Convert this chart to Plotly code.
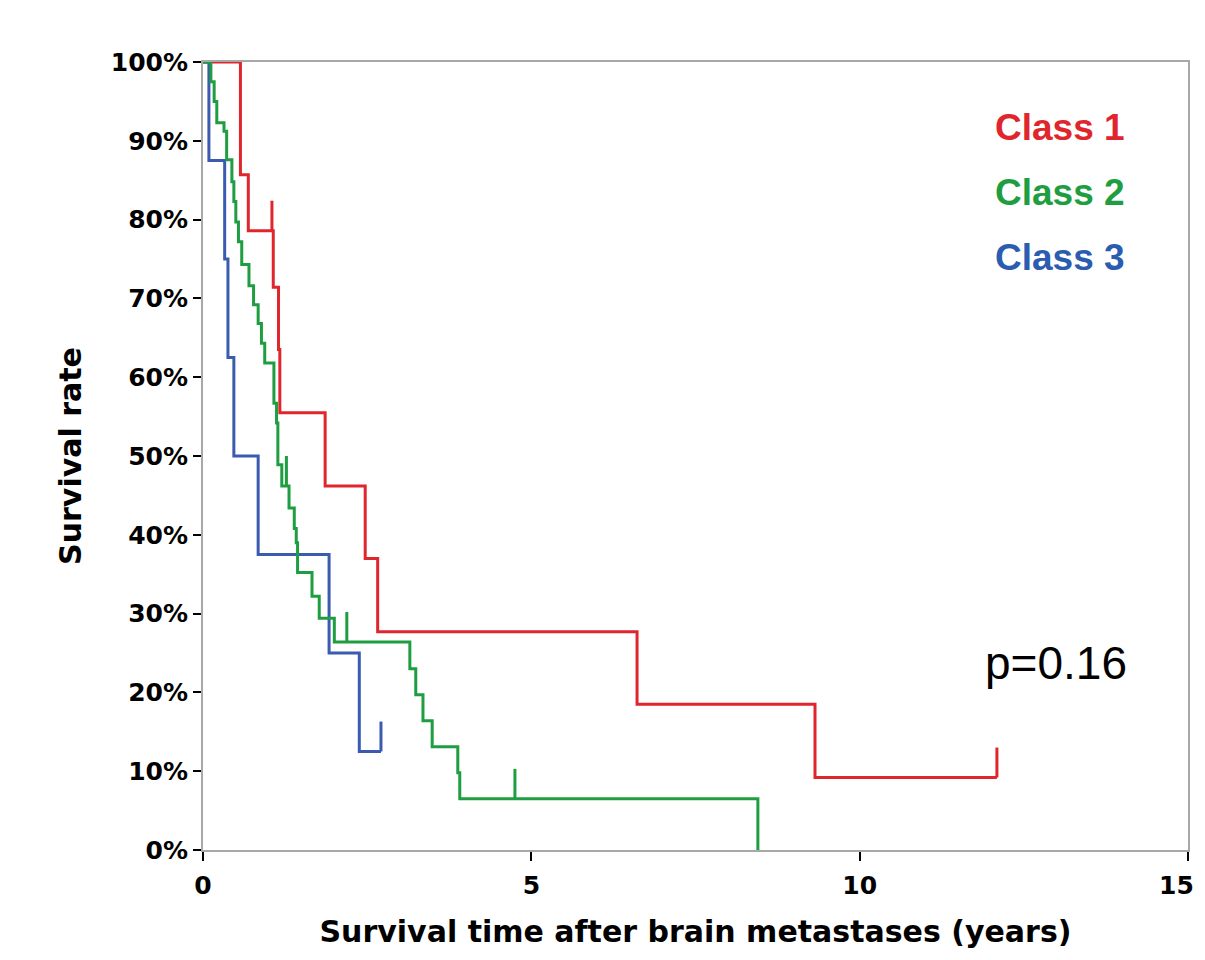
import plotly.graph_objects as go

# -------------------------------
# Dados
# -------------------------------
class_names = ['Class 1', 'Class 2', 'Class 3']
class_colors = ['#E0262C', '#1E9E40', '#3A5BAF']
text_colors = ['#E0262C', '#1E9E40', '#2A5CB0']

# Class 1
red_t = [0, 0.57, 0.69, 1.07, 1.15, 1.17, 1.86, 2.47, 2.66, 6.61, 9.32, 12.09]
red_s = [100, 85.7, 78.6, 71.4, 63.5, 55.5, 46.2, 37.0, 27.7, 18.5, 9.2, 9.2]
red_cens_t = [1.05, 12.09]
red_cens_s = [78.6, 9.2]

# Class 2
green_t = [0, 0.12, 0.17, 0.21, 0.32, 0.36, 0.44, 0.47, 0.50, 0.54, 0.59,
           0.70, 0.77, 0.84, 0.89, 0.94, 1.08, 1.12, 1.14, 1.20, 1.31, 1.39,
           1.42, 1.44, 1.66, 1.77, 2.00, 3.15, 3.24, 3.35, 3.49, 3.88, 3.91,
           8.45]
green_s = [100, 97.5, 95.0, 92.3, 91.2, 87.6, 84.8, 82.3, 79.7, 77.2, 74.3,
           71.6, 69.2, 66.8, 64.3, 61.8, 56.7, 54.2, 48.9, 46.2, 43.4, 40.8,
           39.0, 35.2, 32.2, 29.4, 26.4, 23.0, 19.7, 16.4, 13.1, 9.8, 6.5,
           0]
green_cens_t = [1.27, 2.19, 4.75]
green_cens_s = [46.2, 26.4, 6.5]

# Class 3
blue_t = [0, 0.09, 0.33, 0.38, 0.47, 0.84, 1.92, 2.38, 2.71]
blue_s = [100, 87.5, 75, 62.5, 50, 37.5, 25, 12.5, 12.5]
blue_cens_t = [2.71]
blue_cens_s = [12.5]

x_ticks = [0, 5, 10, 15]
y_ticks = [0, 10, 20, 30, 40, 50, 60, 70, 80, 90, 100]
p_text = 'p=0.16'

cens_height = 3.8  # altura da marca de censura (em %)

series = [
    (red_t, red_s, red_cens_t, red_cens_s),
    (green_t, green_s, green_cens_t, green_cens_s),
    (blue_t, blue_s, blue_cens_t, blue_cens_s),
]
draw_order = [0, 2, 1]

fig = go.Figure()

for i in draw_order:
    t, s, ct, cs = series[i]
    fig.add_trace(go.Scatter(
        x=t, y=s, mode='lines', line_shape='hv',
        line=dict(color=class_colors[i], width=3),
        name=class_names[i], showlegend=False, hoverinfo='skip'
    ))
    # marcas de censura: segmentos verticais acima da curva
    cx, cy = [], []
    for tt, ss in zip(ct, cs):
        cx += [tt, tt, None]
        cy += [ss, ss + cens_height, None]
    fig.add_trace(go.Scatter(
        x=cx, y=cy, mode='lines',
        line=dict(color=class_colors[i], width=3),
        showlegend=False, hoverinfo='skip'
    ))

# legenda como texto colorido
for i, name in enumerate(class_names):
    fig.add_annotation(
        x=0.802, y=0.9175 - i * 0.083, xref='paper', yref='paper',
        xanchor='left', yanchor='middle', showarrow=False,
        text='<b>' + name + '</b>',
        font=dict(family='Liberation Sans, Arial', size=37, color=text_colors[i])
    )

fig.add_annotation(
    x=0.792, y=0.237, xref='paper', yref='paper',
    xanchor='left', yanchor='middle', showarrow=False,
    text=p_text,
    font=dict(family='Liberation Sans, Arial', size=46, color='black')
)

axis_font = dict(family='DejaVu Sans', size=25, color='black')
title_font = dict(family='DejaVu Sans', size=30, color='black')

# último rótulo do eixo x deslocado para dentro (como no original)
x_ticktext = ['<b>%d</b>' % v for v in x_ticks[:-1]] + ['']
fig.add_annotation(
    x=x_ticks[-1], y=0, xref='x', yref='y',
    xanchor='center', yanchor='middle', showarrow=False,
    xshift=-12, yshift=-35,
    text='<b>%d</b>' % x_ticks[-1], font=axis_font
)

fig.update_xaxes(
    range=[0, 15], tickvals=x_ticks, ticktext=x_ticktext,
    showline=True, linecolor='#a8a8a8', linewidth=2, mirror=True,
    ticks='outside', ticklen=9, tickwidth=2, tickcolor='black',
    showgrid=False, zeroline=False, automargin=False,
    tickfont=axis_font, ticklabelstandoff=3,
    title=dict(text='<b>Survival time after brain metastases (years)</b>',
               font=title_font, standoff=22)
)
fig.update_yaxes(
    range=[0, 100], tickvals=y_ticks,
    ticktext=['<b>%d%%</b>' % v for v in y_ticks],
    showline=True, linecolor='#a8a8a8', linewidth=2, mirror=True,
    ticks='outside', ticklen=8, tickwidth=2, tickcolor='black',
    showgrid=False, zeroline=False, automargin=False,
    tickfont=axis_font,
    title=dict(text='<b>Survival rate</b>', font=title_font, standoff=20)
)

fig.update_layout(
    width=1205, height=952,
    margin=dict(l=195, r=25, t=54, b=110),
    plot_bgcolor='white', paper_bgcolor='white',
    font=dict(family='DejaVu Sans'),
    showlegend=False
)

fig.write_html("out.html")
